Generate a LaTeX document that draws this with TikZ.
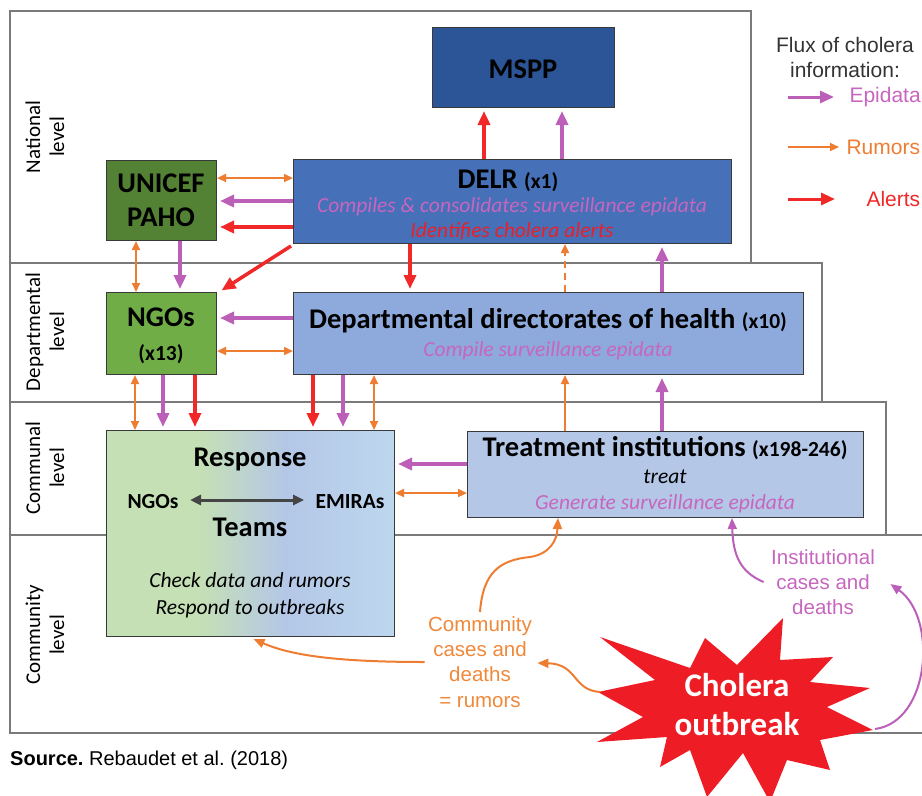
\documentclass[tikz,border=0pt]{standalone}
\usepackage{fontspec}
\setmainfont{Carlito}
\newfontfamily\arialfam{Liberation Sans}
\usetikzlibrary{arrows.meta,calc}
\frenchspacing

\definecolor{bandline}{HTML}{7A7A7A}
\definecolor{boxline}{HTML}{3A3A3A}
\definecolor{msppfill}{HTML}{2B5597}
\definecolor{delrfill}{HTML}{4670B8}
\definecolor{unicfill}{HTML}{548235}
\definecolor{ngofill}{HTML}{70AD47}
\definecolor{deptfill}{HTML}{8EA9DB}
\definecolor{treatfill}{HTML}{B4C7E7}
\definecolor{respgreen}{HTML}{C5E0B4}
\definecolor{respblue}{HTML}{B4C7E7}
\definecolor{resplight}{HTML}{BDD7EE}
\definecolor{epi}{HTML}{BB5FB9}
\definecolor{epitext}{HTML}{C766BE}
\definecolor{rum}{HTML}{EE7D32}
\definecolor{rumtext}{HTML}{F0883A}
\definecolor{alert}{HTML}{F02828}
\definecolor{alerttext}{HTML}{E8202A}
\definecolor{starred}{HTML}{EE1D25}
\definecolor{legtext}{HTML}{333333}
\definecolor{teamarrow}{HTML}{454545}

\pgfdeclarehorizontalshading{respshade}{100bp}{color(0bp)=(respgreen); color(25bp)=(respgreen); color(41bp)=(respgreen); color(56bp)=(respblue); color(75bp)=(resplight); color(100bp)=(resplight)}

\newcommand\fsz[2]{\fontsize{#1}{#2}\selectfont}
\newcommand\countof[1]{{\fsz{21.5}{24}#1}}

\tikzset{
  band/.style={draw=bandline, line width=1.2pt},
  box/.style={draw=boxline, line width=1pt, inner sep=0pt, anchor=north west},
  epiarr/.style={draw=epi, line width=3.5pt, -{Triangle[length=14pt,width=12pt]}, shorten >=3pt},
  alarr/.style={draw=alert, line width=3.5pt, -{Triangle[length=14pt,width=12pt]}, shorten >=3pt},
  rumarr/.style={draw=rum, line width=2.2pt, -{Triangle[length=9pt,width=8pt]}},
  rumboth/.style={draw=rum, line width=2.2pt, {Triangle[length=9pt,width=8pt]}-{Triangle[length=9pt,width=8pt]}},
  rumcurve/.style={draw=rum, line width=2pt, -{Triangle[length=11pt,width=9pt]}},
  epicurve/.style={draw=epi, line width=2pt, -{Triangle[length=11pt,width=9pt]}},
  leveltxt/.style={rotate=90, align=center, font=\fsz{21}{24}},
  titletxt/.style={font=\bfseries\fsz{28.5}{34}, align=center},
  italtxt/.style={font=\itshape\fsz{21.5}{26}},
  smallbold/.style={font=\bfseries\fsz{21.5}{24}}
}

\begin{document}
\begin{tikzpicture}[x=1pt,y=-1pt]
\useasboundingbox (0,0) rectangle (922,796);

% ---- administrative levels ----
\draw[band] (10,11) rectangle (751,263);
\draw[band] (10,263) rectangle (822,402);
\draw[band] (10,402) rectangle (886,535);
\draw[band] (922,535) -- (10,535) -- (10,733) -- (922,733);

\node[leveltxt] (lnat) at (45,137) {National\\level};
\node[leveltxt] (ldep) at (45,332) {Departmental\\level};
\node[leveltxt] (lcom) at (45,468) {Communal\\level};
\node[leveltxt] (lcty) at (45,635) {Community\\level};

% ---- actors ----
\node[box, fill=msppfill, minimum width=182pt, minimum height=80pt] (mspp) at (432,27) {};
\node[box, fill=delrfill, minimum width=438pt, minimum height=84pt] (delr) at (293,159) {};
\node[box, fill=unicfill, minimum width=110pt, minimum height=80pt] (unicef) at (106,160) {};
\node[box, fill=ngofill, minimum width=110pt, minimum height=82pt] (ngos) at (106,292) {};
\node[box, fill=deptfill, minimum width=510pt, minimum height=82pt] (dept) at (293,292) {};
\node[box, shade, shading=respshade, minimum width=288pt, minimum height=206pt] (resp) at (106,430) {};
\node[box, fill=treatfill, minimum width=396pt, minimum height=86pt] (treat) at (467,431) {};

% ---- texts of the actors ----
\node[titletxt] (tmspp) at (523,69) {MSPP};
\node[titletxt] (tdelr) at (508,181) {DELR \countof{(x1)}};
\node[italtxt, text=epitext] (tdelr2) at (512,207) {Compiles \& consolidates surveillance epidata};
\node[italtxt, text=alerttext] (tdelr3) at (512,231) {Identifies cholera alerts};
\node[titletxt, font=\bfseries\fsz{28.5}{34}] (tunicef) at (161,200) {UNICEF\\PAHO};
\node[titletxt] (tngos) at (161,317) {NGOs};
\node[smallbold] (tngos2) at (161,354) {(x13)};
\node[titletxt] (tdept) at (548,321) {Departmental directorates of health \countof{(x10)}};
\node[italtxt, text=epitext] (tdept2) at (548,351) {Compile surveillance epidata};
\node[titletxt] (ttreat) at (665,448) {Treatment institutions \countof{(x198-246)}};
\node[italtxt] (ttreat2) at (665,477) {treat};
\node[italtxt, text=epitext] (ttreat3) at (665,504) {Generate surveillance epidata};
\node[titletxt] (tresp) at (250,459) {Response};
\node[smallbold] (rngo) at (153,502) {NGOs};
\node[smallbold] (remira) at (350,502) {EMIRAs};
\node[titletxt] (tteams) at (250,527) {Teams};
\node[italtxt, align=center, font=\itshape\fsz{21.5}{27}] (tresp2) at (250,595) {Check data and rumors\\Respond to outbreaks};
\draw[draw=teamarrow, line width=3pt, {Triangle[length=11pt,width=10pt]}-{Triangle[length=11pt,width=10pt]}] ($(rngo.east)+(8,-2)$) -- ($(remira.west)+(-8,-2)$);

% ---- column and row positions of the connectors ----
\coordinate (cA) at (484,0);
\coordinate (cB) at (562,0);
\coordinate (cC) at (410,0);
\coordinate (cD) at (565,0);
\coordinate (cE) at (662,0);
\coordinate (cF) at (136,0);
\coordinate (cG) at (180,0);
\coordinate (cH) at (135,0);
\coordinate (cI) at (163,0);
\coordinate (cJ) at (195,0);
\coordinate (cK) at (313,0);
\coordinate (cL) at (343,0);
\coordinate (cM) at (374,0);
\coordinate (r1) at (0,178);
\coordinate (r2) at (0,201);
\coordinate (r3) at (0,227);
\coordinate (r4) at (0,318);
\coordinate (r5) at (0,351);
\coordinate (r6) at (0,464);
\coordinate (r7) at (0,493);

% ---- national level flows ----
\draw[alarr] (delr.north -| cA) -- (mspp.south -| cA);
\draw[epiarr] (delr.north -| cB) -- (mspp.south -| cB);
\draw[rumboth] (unicef.east |- r1) -- (delr.west |- r1);
\draw[epiarr] (delr.west |- r2) -- (unicef.east |- r2);
\draw[alarr] (delr.west |- r3) -- (unicef.east |- r3);
\draw[alarr] ($(delr.south west)+(-2,2)$) -- ($(ngos.north east)+(2,0)$);
\draw[alarr] (delr.south -| cC) -- (dept.north -| cC);
\draw[rumarr, dash pattern=on 7pt off 5pt] (dept.north -| cD) -- (delr.south -| cD);
\draw[epiarr] (dept.north -| cE) -- (delr.south -| cE);
\draw[rumboth] (unicef.south -| cF) -- (ngos.north -| cF);
\draw[epiarr] (unicef.south -| cG) -- (ngos.north -| cG);

% ---- departmental level flows ----
\draw[epiarr] (dept.west |- r4) -- (ngos.east |- r4);
\draw[rumboth] (ngos.east |- r5) -- (dept.west |- r5);
\draw[rumboth] (ngos.south -| cH) -- (resp.north -| cH);
\draw[epiarr] (ngos.south -| cI) -- (resp.north -| cI);
\draw[alarr] (ngos.south -| cJ) -- (resp.north -| cJ);
\draw[alarr] (dept.south -| cK) -- (resp.north -| cK);
\draw[epiarr] (dept.south -| cL) -- (resp.north -| cL);
\draw[rumboth] (dept.south -| cM) -- (resp.north -| cM);
\draw[rumarr] (treat.north -| cD) -- (dept.south -| cD);
\draw[epiarr] (treat.north -| cE) -- (dept.south -| cE);

% ---- communal level flows ----
\draw[epiarr] (treat.west |- r6) -- (resp.east |- r6);
\draw[rumboth] (resp.east |- r7) -- (treat.west |- r7);

% ---- community level ----
\fill[starred] (600,637) -- (690,668) -- (705,638) -- (737,665) -- (783,618) -- (780,660)
  -- (833,657) -- (810,682) -- (870,688) -- (827,707) -- (873,730) -- (820,740)
  -- (830,770) -- (787,760) -- (770,802) -- (743,753) -- (707,797) -- (690,750)
  -- (660,767) -- (667,737) -- (597,742) -- (643,717) -- (598,692) -- (655,680) -- cycle;
\node[font=\bfseries\fsz{33}{39}, text=white, align=center] (outbreak) at (737,705) {Cholera\\outbreak};

\node[font=\arialfam\fsz{20.5}{25.3}, text=rumtext, align=center] (cases) at (480,662) {Community\\cases and\\deaths\\= rumors};
\node[font=\arialfam\fsz{20.5}{25.3}, text=epitext, align=center] (inst) at (823,582) {Institutional\\cases and\\deaths};

\coordinate (s1) at (600,692);
\coordinate (s2) at (875,729);
\draw[rumcurve] (cases.north) ++(0,-1) .. controls (483,572) and (500,560) .. (530,557)
  .. controls (550,554) and (557,540) .. (treat.south -| 558,0);
\draw[rumcurve] (cases.west |- 417,662) .. controls (335,662) and (290,655) .. ($(resp.south)+(3,2)$);
\draw[rumcurve] (s1) .. controls (572,690) and (578,664) .. ($(cases.east)+(2,1)$);
\draw[epicurve] ($(inst.west)+(-4,0)$) .. controls (740,572) and (733,555) .. (treat.south -| 732,0);
\draw[epicurve] (s2) .. controls (930,722) and (938,618) .. ($(inst.east)+(12,2)$);

% ---- legend ----
\node[font=\arialfam\fsz{21}{25}, text=legtext, align=center] (legtitle) at (845,57) {Flux of cholera\\information:};
\node[font=\arialfam\fsz{21}{25}, text=epitext, anchor=west] (lepi) at (846,97) {Epidata};
\node[font=\arialfam\fsz{21}{25}, text=rum, anchor=west] (lrum) at (843,147) {Rumors};
\node[font=\arialfam\fsz{21}{25}, text=alert, anchor=west] (lal) at (863,199) {Alerts};
\coordinate (le1) at (788,97);
\coordinate (le2) at (788,147);
\coordinate (le3) at (788,199);
\draw[epiarr, shorten >=0pt, line width=3pt] (le1) -- ($(lepi.west)+(-12,0)$);
\draw[rumarr] (le2) -- ($(lrum.west)+(-4,0)$);
\draw[alarr, shorten >=0pt, line width=3pt] (le3) -- ($(lal.west)+(-28,0)$);

% ---- source line ----
\node[font=\arialfam\fsz{20}{23}, anchor=west, inner sep=0pt] (source) at (10,760) {\textbf{Source.} Rebaudet et al.\ (2018)};
\end{tikzpicture}
\end{document}
